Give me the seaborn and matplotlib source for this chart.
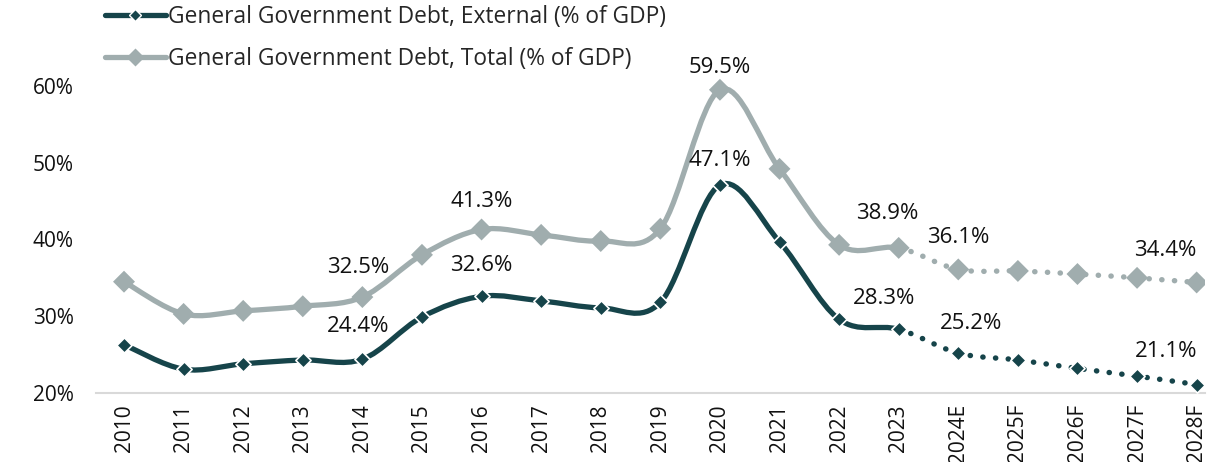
import numpy as np
import pandas as pd
import matplotlib
matplotlib.use("Agg")
import matplotlib.pyplot as plt
from matplotlib.path import Path
from matplotlib.patches import PathPatch
from matplotlib.lines import Line2D
import seaborn as sns

# ---------------- data ----------------
years = ["2010", "2011", "2012", "2013", "2014", "2015", "2016", "2017", "2018",
         "2019", "2020", "2021", "2022", "2023", "2024E", "2025F", "2026F",
         "2027F", "2028F"]
external = [26.3, 23.1, 23.8, 24.3, 24.4, 29.9, 32.6, 32.0, 31.1, 31.8, 47.1,
            39.7, 29.6, 28.3, 25.2, 24.3, 23.2, 22.2, 21.1]
total = [34.5, 30.3, 30.7, 31.3, 32.5, 38.0, 41.3, 40.6, 39.8, 41.4, 59.5,
         49.2, 39.3, 38.9, 36.1, 35.9, 35.5, 35.0, 34.4]
series_names = ["General Government Debt, External (% of GDP)",
                "General Government Debt, Total (% of GDP)"]
last_actual = 13  # index of 2023; forecasts drawn dotted after it
yticks = [20, 30, 40, 50, 60]

# labels: (series index, point index, dx px, dy px)
labels = [
    (1, 4, -4, 30), (1, 6, 0, 28), (1, 10, 0, 22), (1, 13, -11, 34),
    (1, 14, 0, 32), (1, 18, -31, 32),
    (0, 4, -4, 33), (0, 6, 0, 31), (0, 10, 0, 24), (0, 13, -15, 31),
    (0, 14, 13, 30), (0, 18, -31, 33),
]

DARK = "#16444a"
GRAY = "#a0adae"
colors = [DARK, GRAY]
FONT = "Open Sans"

sns.set_theme(style="white")
plt.rcParams["font.family"] = [FONT, "DejaVu Sans"]

df = pd.DataFrame({
    "x": list(range(len(years))) * 2,
    "value": external + total,
    "series": [series_names[0]] * len(years) + [series_names[1]] * len(years),
})

fig = plt.figure(figsize=(12.22, 4.62), dpi=100)
ax = fig.add_axes([96 / 1222, 69 / 462, (1205 - 96) / 1222, 322.4 / 462])


def smooth_path(xs, ys, i0, i1):
    """Bezier path (Excel-like smoothing) from point i0 to i1."""
    n = len(xs)
    verts = [(xs[i0], ys[i0])]
    codes = [Path.MOVETO]
    for i in range(i0, i1):
        p0 = np.array([xs[max(i - 1, 0)], ys[max(i - 1, 0)]])
        p1 = np.array([xs[i], ys[i]])
        p2 = np.array([xs[i + 1], ys[i + 1]])
        p3 = np.array([xs[min(i + 2, n - 1)], ys[min(i + 2, n - 1)]])
        c1 = p1 + (p2 - p0) / 6.0
        c2 = p2 - (p3 - p1) / 6.0
        verts += [tuple(c1), tuple(c2), tuple(p2)]
        codes += [Path.CURVE4] * 3
    return Path(verts, codes)


xs = np.arange(len(years))
# draw total first (behind), then external
for si in [1, 0]:
    vals = external if si == 0 else total
    col = colors[si]
    solid = PathPatch(smooth_path(xs, vals, 0, last_actual), fill=False,
                      edgecolor=col, lw=3.8, capstyle="round", zorder=2)
    ax.add_patch(solid)
    dotted = PathPatch(smooth_path(xs, vals, last_actual, len(years) - 1),
                       fill=False, edgecolor=col, lw=3.9,
                       linestyle=(0, (0.05, 2.3)), capstyle="round", zorder=2)
    ax.add_patch(dotted)

sub_t = df[df["series"] == series_names[1]]
sub_e = df[df["series"] == series_names[0]]
sns.scatterplot(data=sub_t, x="x", y="value", ax=ax, marker="D", s=125,
                color=GRAY, edgecolor="none", linewidth=0, zorder=3, legend=False)
sns.scatterplot(data=sub_e, x="x", y="value", ax=ax, marker="D", s=60,
                color=DARK, edgecolor="white", linewidth=1.2, zorder=4, legend=False)

for si, idx, dx, dy in labels:
    v = (external if si == 0 else total)[idx]
    ax.annotate(f"{v:.1f}%", (idx, v), xytext=(dx * 0.72, dy * 0.72),
                textcoords="offset points", ha="center", va="center",
                fontsize=16, color="#111111", zorder=5, annotation_clip=False)

ax.set_xlim(-0.47, 18.14)
ax.set_ylim(20, 62)
ax.set_xticks(xs)
ax.set_xticklabels(years, rotation=90, fontsize=15, color="#111111")
ax.set_yticks(yticks)
ax.set_yticklabels([f"{t}%" for t in yticks], fontsize=15, color="#111111")
ax.tick_params(axis="x", length=0, pad=8)
ax.tick_params(axis="y", length=0, pad=16)
ax.set_xlabel("")
ax.set_ylabel("")
for s in ["top", "right", "left"]:
    ax.spines[s].set_visible(False)
ax.spines["bottom"].set_color("#d9d9d9")
ax.spines["bottom"].set_linewidth(1.5)
ax.grid(False)

handles = [
    Line2D([], [], color=DARK, lw=3.8, marker="D", markersize=6.5,
           markerfacecolor=DARK, markeredgecolor="white", markeredgewidth=1.0),
    Line2D([], [], color=GRAY, lw=3.8, marker="D", markersize=9.5,
           markerfacecolor=GRAY, markeredgecolor="none"),
]
fig.legend(handles, series_names, loc="upper left",
           bbox_to_anchor=(100 / 1222, 1.0), frameon=False, fontsize=16.4,
           handlelength=2.7, handletextpad=0.1, labelspacing=0.8,
           borderaxespad=0.0, borderpad=0.2)

fig.savefig("out.png", dpi=100)
